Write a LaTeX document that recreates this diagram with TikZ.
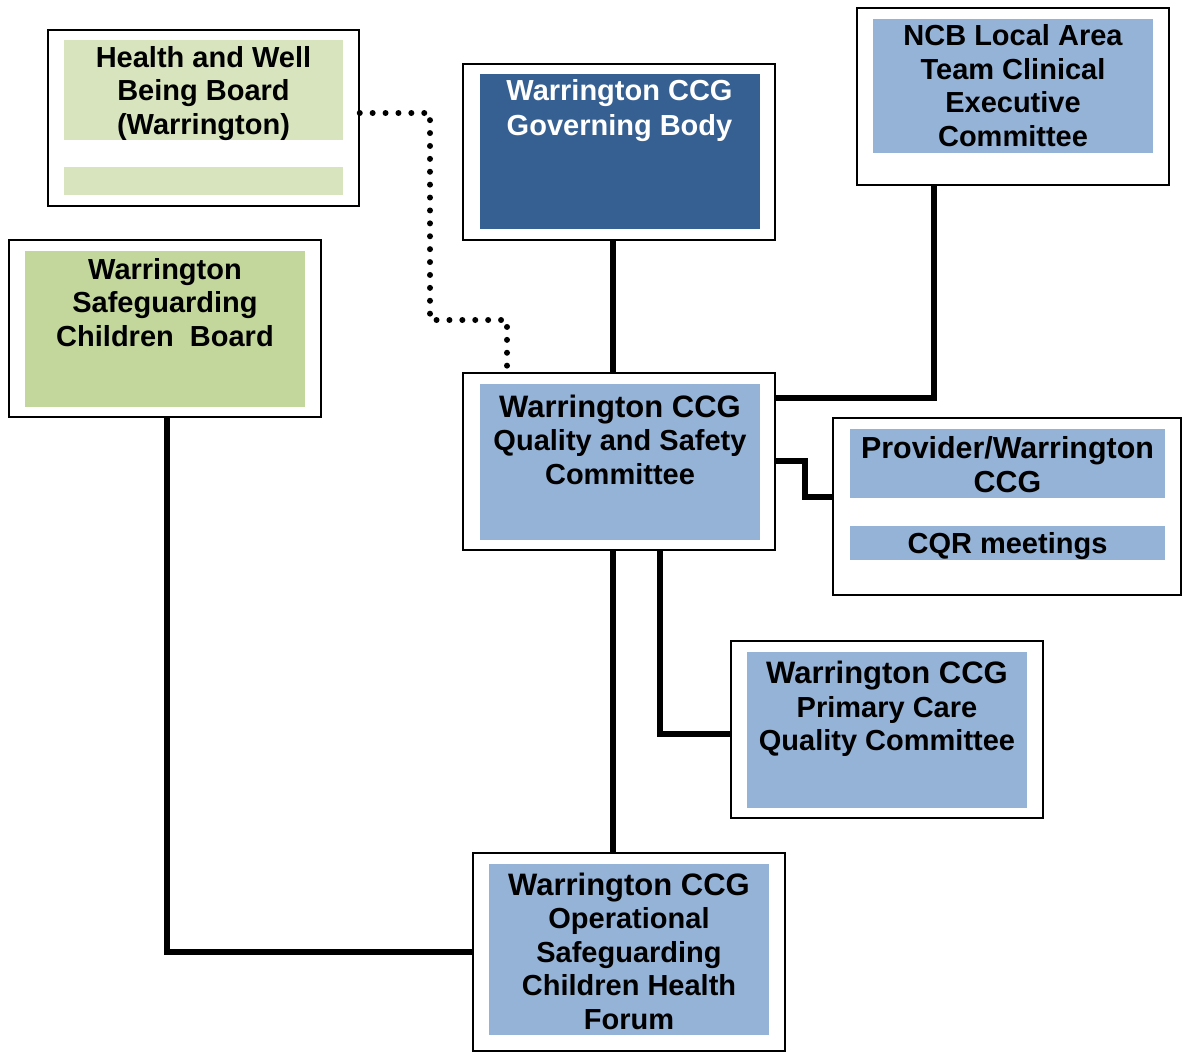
\documentclass[tikz,border=0pt]{standalone}
\usepackage{fontspec}
\setmainfont{Liberation Sans}
\definecolor{lgreen}{HTML}{D7E4BD}
\definecolor{mgreen}{HTML}{C3D69B}
\definecolor{navy}{HTML}{366092}
\definecolor{lblue}{HTML}{95B3D7}
\begin{document}
\begin{tikzpicture}[x=1pt,y=-1pt,
  outer/.style={draw=black, line width=1.5pt, fill=white, inner sep=0pt},
  fillbox/.style={draw=none, inner sep=0pt},
  txt/.style={font=\fontsize{29}{33.5}\bfseries\selectfont, align=center, inner sep=0pt},
  conn/.style={line width=6pt},
  dotconn/.style={line width=6pt, line cap=round, dash pattern=on 0pt off 12.9pt}]
\useasboundingbox (0,0) rectangle (1183,1053);
% outer boxes
\node[outer, minimum width=311pt, minimum height=176pt] (hw) at (203.5,118) {};
\node[outer, minimum width=312pt, minimum height=176pt] (gb) at (619,152) {};
\node[outer, minimum width=312pt, minimum height=177pt] (ncb) at (1013,96.5) {};
\node[outer, minimum width=312pt, minimum height=177pt] (sg) at (165,328.5) {};
\node[outer, minimum width=312pt, minimum height=177pt] (q) at (619,461.5) {};
\node[outer, minimum width=348pt, minimum height=177pt] (pv) at (1007,506.5) {};
\node[outer, minimum width=312pt, minimum height=177pt] (pc) at (887,729.5) {};
\node[outer, minimum width=312pt, minimum height=198pt] (fo) at (629,952) {};
% fills
\node[fillbox, fill=lgreen, minimum width=279pt, minimum height=100pt] (hwf1) at (203.5,90) {};
\node[fillbox, fill=lgreen, minimum width=279pt, minimum height=28pt] (hwf2) at (203.5,181) {};
\node[fillbox, fill=navy, minimum width=280pt, minimum height=155pt] (gbf) at (620,151.5) {};
\node[fillbox, fill=lblue, minimum width=280pt, minimum height=134pt] (ncbf) at (1013,86) {};
\node[fillbox, fill=mgreen, minimum width=280pt, minimum height=156pt] (sgf) at (165,329) {};
\node[fillbox, fill=lblue, minimum width=280pt, minimum height=156pt] (qf) at (620,462) {};
\node[fillbox, fill=lblue, minimum width=315pt, minimum height=69pt] (pvf1) at (1007.5,463.5) {};
\node[fillbox, fill=lblue, minimum width=315pt, minimum height=34pt] (pvf2) at (1007.5,543) {};
\node[fillbox, fill=lblue, minimum width=280pt, minimum height=156pt] (pcf) at (887,730) {};
\node[fillbox, fill=lblue, minimum width=280pt, minimum height=171pt] (fof) at (629,949.5) {};
% texts
\node[txt] (hwt) at (203.5,93.5) {Health and Well\\Being Board\\(Warrington)};
\node[txt, text=white, font=\fontsize{29}{35}\bfseries\selectfont] (gbt) at (619.5,111) {Warrington CCG\\Governing Body};
\node[txt] (ncbt) at (1013,85.5) {NCB Local Area\\Team Clinical\\Executive\\Committee};
\node[txt] (sgt) at (165,302.5) {Warrington\\Safeguarding\\Children\ \ Board};
\node[txt] (qt) at (620,439.5) {\fontsize{31}{35.5}\selectfont Warrington CCG\\\fontsize{29}{35.5}\selectfont Quality and Safety\\Committee};
\node[txt, font=\fontsize{30.4}{34}\bfseries\selectfont] (pvt) at (1007.5,465) {Provider/Warrington\\CCG};
\node[txt] (pvt2) at (1007.5,546) {CQR meetings};
\node[txt] (pct) at (887,709) {\fontsize{31}{35.5}\selectfont Warrington CCG\\\fontsize{29}{36.5}\selectfont Primary Care\\Quality Committee};
\node[txt] (fot) at (629,951) {\fontsize{31}{34}\selectfont Warrington CCG\\\fontsize{29}{34}\selectfont Operational\\Safeguarding\\Children Health\\Forum};
% connectors
\draw[conn] (gb.south -| 613,0) -- (q.north -| 613,0);
\draw[dotconn] (hw.east |- 0,113) -- (430,113) -- (430,320) -- (507,320) -- (q.north -| 507,0);
\draw[conn] (ncb.south -| 934,0) -- (934,398) -- (q.east |- 0,398);
\draw[conn] (q.east |- 0,461) -- (805,461) -- (805,497) -- (pv.west |- 0,497);
\draw[conn] (q.south -| 613,0) -- (fo.north -| 613,0);
\draw[conn] (q.south -| 660,0) -- (660,734) -- (pc.west |- 0,734);
\draw[conn] (sg.south -| 167,0) -- (167,952) -- (fo.west |- 0,952);
\end{tikzpicture}
\end{document}
